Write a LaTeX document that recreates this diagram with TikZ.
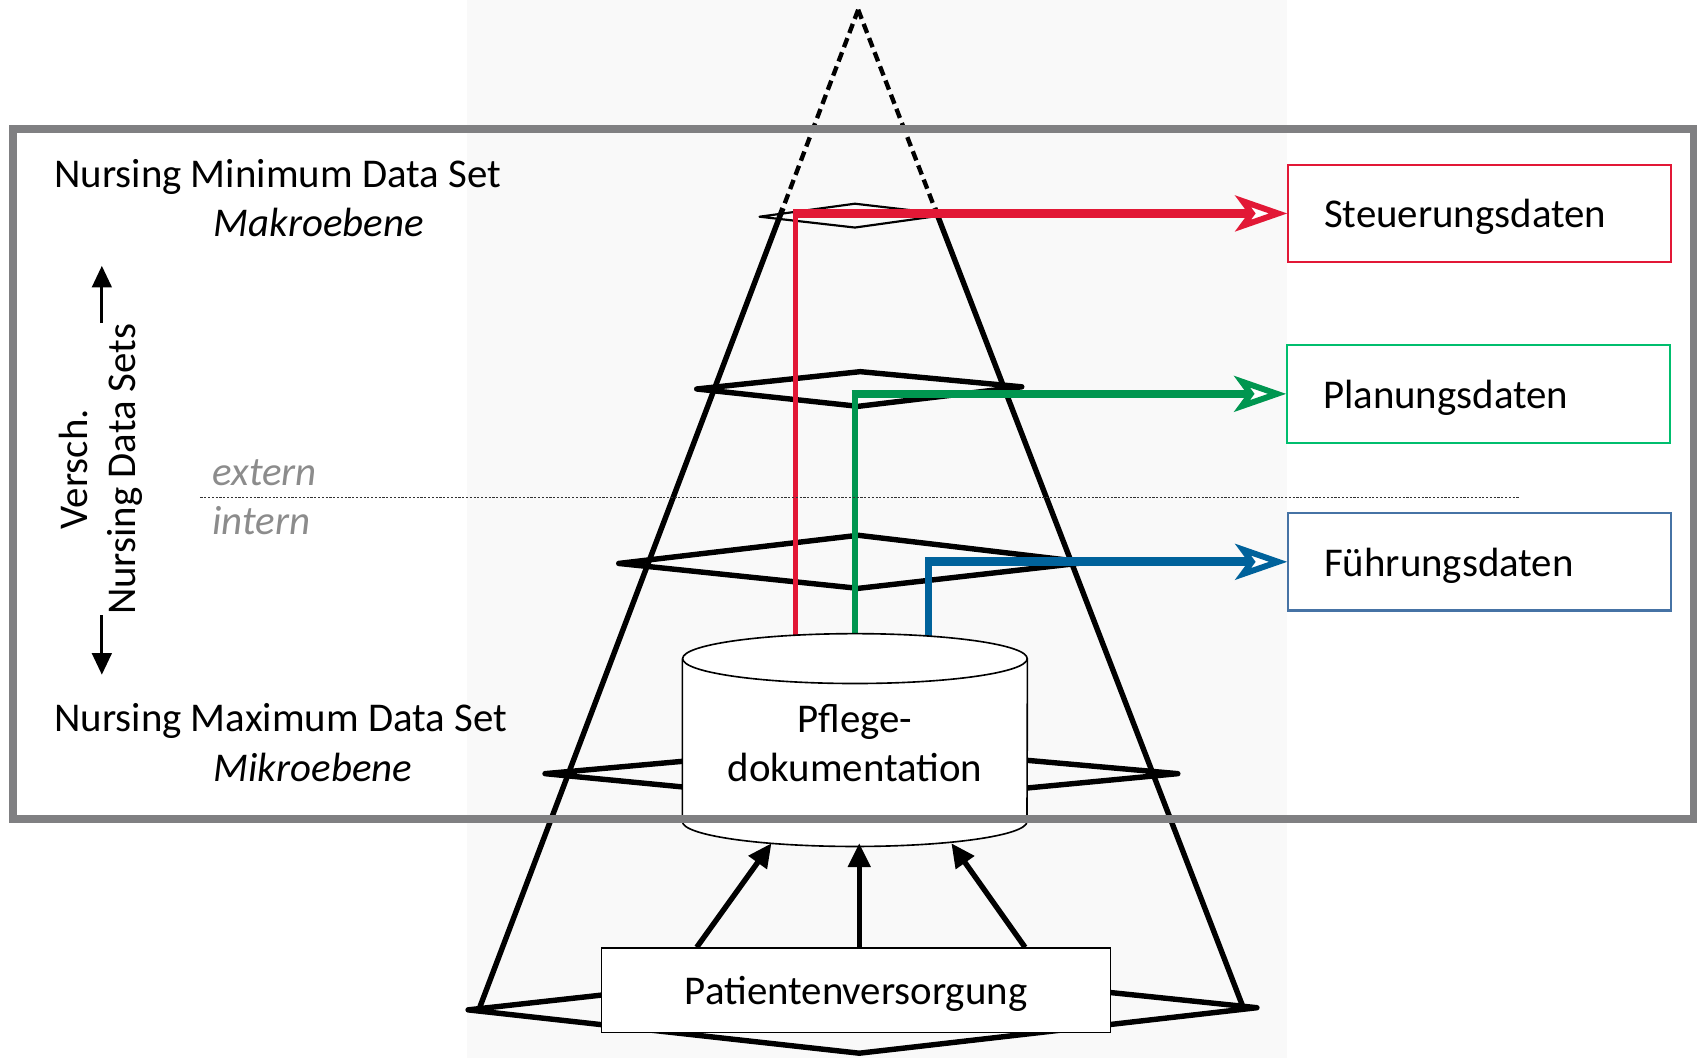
\documentclass[tikz,border=0pt]{standalone}
\usepackage{fontspec}
\setmainfont{Carlito}
\usetikzlibrary{arrows.meta,calc}
\pgfdeclarelayer{back}
\pgfdeclarelayer{conelayer}
\pgfdeclarelayer{conn}
\pgfdeclarelayer{cyl}
\pgfsetlayers{back,conelayer,conn,cyl,main}
\definecolor{myred}{RGB}{226,24,54}
\definecolor{mygreen}{RGB}{0,150,80}
\definecolor{mygreenbox}{RGB}{0,190,110}
\definecolor{myblue}{RGB}{0,98,155}
\definecolor{mybluebox}{RGB}{70,115,165}
\definecolor{framegray}{RGB}{128,128,130}
\definecolor{softgray}{RGB}{140,140,140}
\definecolor{bgcol}{RGB}{249,249,249}
\begin{document}
\begin{tikzpicture}[x=1pt,y=-1pt, line join=miter,
  txt/.style={inner sep=0pt, font=\fontsize{37.7}{45}\selectfont},
  itxt/.style={inner sep=0pt, font=\fontsize{37.7}{45}\selectfont\itshape},
  databox/.style={draw, line width=2pt, minimum height=90pt, text width=287pt, inner xsep=33pt, inner ysep=0pt, text depth=0pt, align=left, anchor=west, fill=white, font=\fontsize{37.7}{45}\selectfont},
  cone/.style={line width=5pt},
  conedash/.style={line width=4pt, dash pattern=on 9pt off 5pt},
  level/.style={line width=5pt, line join=round},
  hconn/.style={line width=8pt, -{Stealth[length=48pt, width=33pt, inset=12pt, fill=white, line width=5.5pt]}},
  uparrow/.style={line width=5pt, -{Triangle[length=22pt, width=20pt]}},
  sidearrow/.style={line width=3pt, -{Triangle[length=20pt, width=18pt]}},
  dotline/.style={line width=1.5pt, dash pattern=on 2pt off 1.5pt, black!80},
]
\useasboundingbox (0,0) rectangle (1568,976);

% faint background column
\begin{pgfonlayer}{back}
  \fill[bgcol] (431,0) rectangle (1188,976);
\end{pgfonlayer}

% cone and levels
\begin{pgfonlayer}{conelayer}
  \coordinate (apex) at (792,9);
  \coordinate (bl) at (443,929);
  \coordinate (br) at (1147,929);
  \draw[conedash] (apex) -- ($(apex)!0.199!(bl)$);
  \draw[conedash] (apex) -- ($(apex)!0.199!(br)$);
  \draw[cone] ($(apex)!0.199!(bl)$) -- (bl);
  \draw[cone] ($(apex)!0.199!(br)$) -- (br);
  \draw[line width=2pt, line join=round] (701,200) -- (789,188) -- (875,198) -- (789,210) -- cycle;
  \draw[level] (643,359) -- (794,343) -- (943,357) -- (792,375) -- cycle;
  \draw[level] (571,520) -- (792,494) -- (1003,519) -- (792,543) -- cycle;
  \draw[level] (503,714) -- (793,688) -- (1087,714) -- (793,742) -- cycle;
  \draw[level] (432,932) -- (793,892) -- (1160,930) -- (793,972) -- cycle;
\end{pgfonlayer}

% cylinder reference node and its text
\node[inner sep=0pt, minimum width=318pt, minimum height=196pt] (doc) at (789,683) {};
\node[txt, align=center] (doctext) at (789,686) {Pflege-\\dokumentation};

% cylinder drawing
\begin{pgfonlayer}{cyl}
  \fill[white] ($(doc.north west)+(0,23)$) rectangle ($(doc.south east)+(0,-23)$);
  \fill[white] ($(doc.north)+(0,23)$) ellipse (159 and 23);
  \fill[white] ($(doc.south)+(0,-23)$) ellipse (159 and 23);
  \draw[line width=1.5pt] ($(doc.north)+(0,23)$) ellipse (159 and 23);
  \draw[line width=1.5pt] ($(doc.north west)+(0,23)$) -- ($(doc.south west)+(0,-23)$) arc (180:0:159 and 23) -- ($(doc.north east)+(0,23)$);
\end{pgfonlayer}

% frame
\node[draw=framegray, line width=7pt, minimum width=1551pt, minimum height=637pt, inner sep=0pt] (frame) at (787.5,437.5) {};

% right boxes
\node[databox, draw=myred] (steu) at (1188,197) {Steuerungsdaten};
\node[databox, draw=mygreenbox] (plan) at (1187,363.5) {Planungsdaten};
\node[databox, draw=mybluebox] (fuehr) at (1188,518.5) {Führungsdaten};

% connectors
\begin{pgfonlayer}{conn}
  \coordinate (rb) at ($(doc.north)+(-55,12)$);
  \draw[myred, line width=4pt] (rb) -- ($(rb |- steu.west)+(0,-4)$);
  \draw[myred, hconn] ($(rb |- steu.west)+(-2,0)$) -- (steu.west);
  \coordinate (gb) at ($(doc.north)+(0,12)$);
  \draw[mygreen, line width=6pt] (gb) -- ($(gb |- plan.west)+(0,-4)$);
  \draw[mygreen, hconn] ($(gb |- plan.west)+(-3,0)$) -- (plan.west);
  \coordinate (bb) at ($(doc.north)+(68,12)$);
  \draw[myblue, line width=6pt] (bb) -- ($(bb |- fuehr.west)+(0,-4)$);
  \draw[myblue, hconn] ($(bb |- fuehr.west)+(-3,0)$) -- (fuehr.west);
\end{pgfonlayer}

% left texts
\node[txt, anchor=base west] (nmin) at (50,173) {Nursing Minimum Data Set};
\node[itxt, anchor=base west] (makro) at (197,218) {Makroebene};
\node[txt, anchor=base west] (nmax) at (50,675) {Nursing Maximum Data Set};
\node[itxt, anchor=base west] (mikro) at (197,721) {Mikroebene};
\node[itxt, text=softgray, anchor=base west] (ext) at (196,448) {extern};
\node[itxt, text=softgray, anchor=base west] (int) at (196,493) {intern};
\coordinate (dl) at (185,459);
\coordinate (dr) at (1402,459);
\draw[dotline] (dl) -- (dr);

\node[txt, rotate=90, align=center] (vers) at (93,433) {Versch.\\Nursing Data Sets};
\draw[sidearrow] ($(vers.east)+(1,0)$) -- ++(0,-53);
\draw[sidearrow] ($(vers.west)+(1,0)$) -- ++(0,55);

% Patientenversorgung
\node[txt, draw, line width=1.5pt, fill=white, minimum width=470pt, minimum height=78pt, text depth=0pt] (pv) at (790,914) {Patientenversorgung};
\draw[uparrow] ($(pv.north)+(-147,0)$) -- ($(doc.south)+(-77,-3)$);
\draw[uparrow] ($(pv.north)+(3,0)$) -- ($(doc.south)+(4,-3)$);
\draw[uparrow] ($(pv.north)+(156,0)$) -- ($(doc.south)+(89,-3)$);
\end{tikzpicture}
\end{document}
